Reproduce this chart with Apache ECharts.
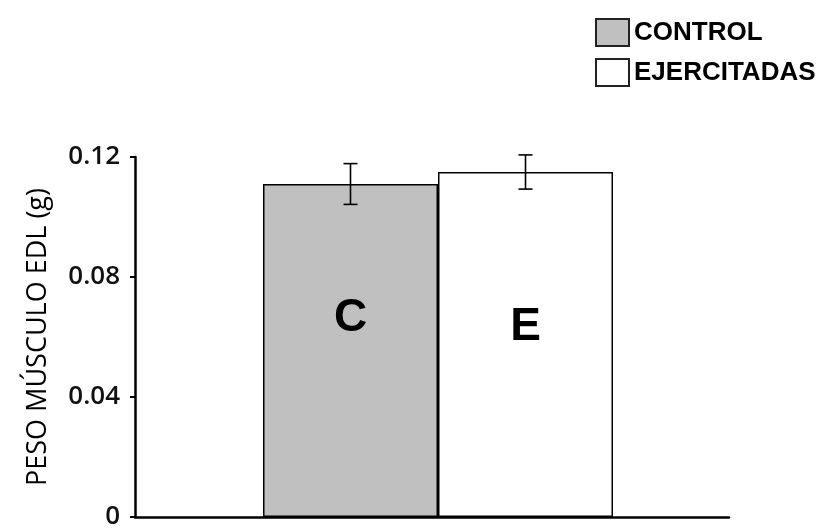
<!DOCTYPE html>
<html>
<head>
<meta charset="utf-8">
<script src="https://cdn.jsdelivr.net/npm/echarts@6/dist/echarts.min.js"></script>
<style>
  html, body { margin: 0; padding: 0; background: #fff; }
  #chart { width: 832px; height: 530px; }
</style>
</head>
<body>
<div id="chart"></div>
<script>
// EDL muscle weight (g): control vs exercised group, mean ± error
const categories = ['EDL'];
const groupNames = ['CONTROL', 'EJERCITADAS'];
const groupLetters = ['C', 'E'];
const controlMean = [0.111];
const controlErr = [0.0068];
const exerciseMean = [0.115];
const exerciseErr = [0.0057];
const yTicks = [0, 0.04, 0.08, 0.12];

const BAR_W = 175;
const SPACER_W = 12;

const chart = echarts.init(document.getElementById('chart'));

// draws a vertical error bar with caps over the bar of the given slot
function errorBarRenderer(slot) {
  return function (params, api) {
    const catIdx = api.value(0);
    const lo = api.coord([catIdx, api.value(1)]);
    const hi = api.coord([catIdx, api.value(2)]);
    // bars are laid out: spacer | control | exercise, centred on the category
    const total = SPACER_W + 2 * BAR_W;
    const start = lo[0] - total / 2 + SPACER_W;
    const x = start + BAR_W * slot + BAR_W / 2;
    const cap = 7;
    const style = { stroke: '#000', lineWidth: 1.6 };
    return {
      type: 'group',
      children: [
        { type: 'line', shape: { x1: x, y1: hi[1], x2: x, y2: lo[1] }, style },
        { type: 'line', shape: { x1: x - cap, y1: hi[1], x2: x + cap, y2: hi[1] }, style },
        { type: 'line', shape: { x1: x - cap, y1: lo[1], x2: x + cap, y2: lo[1] }, style }
      ]
    };
  };
}

const labelFont = 'Liberation Sans, Arial, sans-serif';

chart.setOption({
  animation: false,
  grid: { left: 135, right: 103, top: 157, bottom: 10, containLabel: false },
  legend: {
    data: groupNames,
    orient: 'vertical',
    left: 590,
    top: 13,
    itemWidth: 33,
    itemHeight: 27,
    itemGap: 11,
    icon: 'rect',
    itemStyle: { borderColor: '#222', borderWidth: 2 },
    textStyle: { fontFamily: labelFont, fontWeight: 'bold', fontSize: 26, lineHeight: 27, color: '#000' }
  },
  xAxis: {
    type: 'category',
    data: categories,
    axisLine: { lineStyle: { color: '#000', width: 2.5 } },
    axisTick: { show: false },
    axisLabel: { show: false }
  },
  yAxis: {
    type: 'value',
    min: 0,
    max: 0.12,
    interval: 0.04,
    name: 'PESO MÚSCULO EDL (g)',
    nameLocation: 'middle',
    nameGap: 83,
    nameRotate: 90,
    nameTextStyle: { fontFamily: 'Open Sans, sans-serif', fontSize: 27, color: '#000' },
    axisLine: { show: true, lineStyle: { color: '#000', width: 2.5 } },
    axisTick: { show: true, length: 5, lineStyle: { color: '#000', width: 2 } },
    splitLine: { show: false },
    axisLabel: {
      fontFamily: 'Open Sans, sans-serif',
      fontSize: 26,
      fontWeight: 600,
      color: '#111',
      margin: 15,
      formatter: v => {
        const t = yTicks.find(k => Math.abs(k - v) < 1e-9);
        return t === 0 ? '0' : (t !== undefined ? t.toFixed(2) : '');
      }
    }
  },
  series: [
    {
      // empty slot that keeps the pair of bars slightly right of the category centre
      type: 'bar',
      data: ['-'],
      barWidth: SPACER_W,
      barGap: '0%',
      silent: true,
      itemStyle: { color: 'transparent' }
    },
    {
      name: groupNames[0],
      type: 'bar',
      data: controlMean,
      barWidth: BAR_W,
      barGap: '0%',
      itemStyle: { color: '#c0c0c0', borderColor: '#000', borderWidth: 1.5 },
      label: {
        show: true, position: 'inside', offset: [0, -32],
        formatter: groupLetters[0],
        fontFamily: labelFont, fontWeight: 'bold', fontSize: 46, color: '#000'
      }
    },
    {
      name: groupNames[1],
      type: 'bar',
      data: exerciseMean,
      barWidth: BAR_W,
      barGap: '0%',
      itemStyle: { color: '#ffffff', borderColor: '#000', borderWidth: 1.5 },
      label: {
        show: true, position: 'inside', offset: [0, -17],
        formatter: groupLetters[1],
        fontFamily: labelFont, fontWeight: 'bold', fontSize: 46, color: '#000'
      }
    },
    {
      type: 'custom',
      renderItem: errorBarRenderer(0),
      data: controlMean.map((m, i) => [i, m - controlErr[i], m + controlErr[i]]),
      z: 10
    },
    {
      type: 'custom',
      renderItem: errorBarRenderer(1),
      data: exerciseMean.map((m, i) => [i, m - exerciseErr[i], m + exerciseErr[i]]),
      z: 10
    }
  ]
});
</script>
</body>
</html>
